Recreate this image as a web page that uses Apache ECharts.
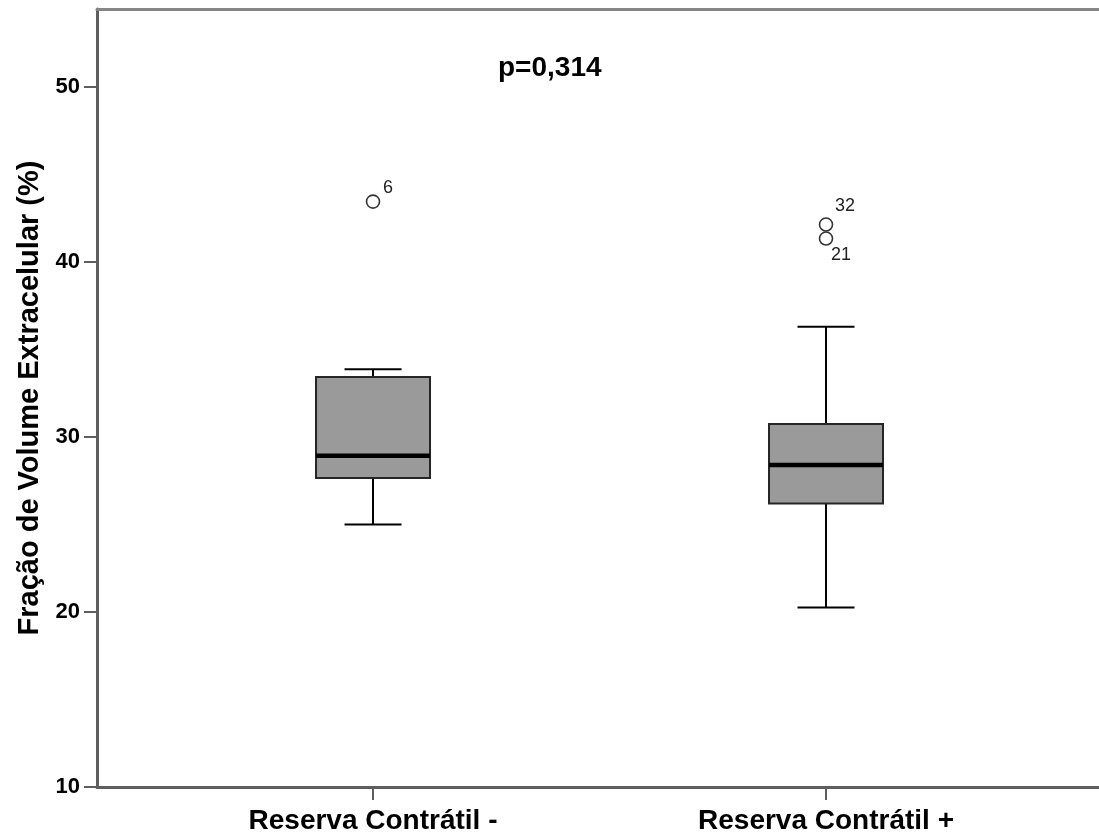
<!DOCTYPE html>
<html>
<head>
<meta charset="utf-8">
<script src="https://cdn.jsdelivr.net/npm/echarts@6/dist/echarts.min.js"></script>
<style>
  html, body { margin: 0; padding: 0; background: #fff; }
  #chart { width: 1099px; height: 834px; }
</style>
</head>
<body>
<div id="chart"></div>
<script>
// Group labels along the x axis
const categories = ['Reserva Contrátil -', 'Reserva Contrátil +'];

// Five-number summaries per group (%)
const whiskerLow  = [25.0, 20.25];
const quartile1   = [27.65, 26.2];
const median      = [28.93, 28.4];
const quartile3   = [33.43, 30.74];
const whiskerHigh = [33.87, 36.3];

// Outlying cases: group index, value and case number
const outlierGroup = [0, 1, 1];
const outlierValue = [43.45, 42.14, 41.34];
const outlierId    = ['6', '32', '21'];

// Y axis ticks
const yTicks = [10, 20, 30, 40, 50];

const pValueText = 'p=0,314';
const yTitle = 'Fração de Volume Extracelular (%)';

// Layout / style constants
const BOX_WIDTH = 114;
const CAP_WIDTH = 57;
const AXIS_COLOR = '#5e5e5e';
const labelOffsets = { '6': [15, -14], '32': [19, -19], '21': [15, 16] };

const boxData = categories.map((c, i) => [i, whiskerLow[i], quartile1[i], median[i], quartile3[i], whiskerHigh[i]]);
const outlierData = outlierValue.map((v, i) => ({
  value: [outlierGroup[i], v],
  name: outlierId[i],
  label: { offset: labelOffsets[outlierId[i]] }
}));

const chart = echarts.init(document.getElementById('chart'), null, { renderer: 'canvas' });

chart.setOption({
  backgroundColor: '#ffffff',
  animation: false,
  grid: { left: 97, width: 1052, top: 9, height: 778, containLabel: false, outerBoundsMode: 'none' },
  xAxis: [{
    type: 'value',
    min: -0.6093,
    max: 1.713,
    axisLine: { show: true, onZero: false, lineStyle: { color: AXIS_COLOR, width: 3 } },
    axisTick: { show: true, length: 13, customValues: [0, 1], lineStyle: { color: AXIS_COLOR, width: 2 } },
    axisLabel: {
      customValues: [0, 1],
      formatter: v => categories[Math.round(v)] || '',
      margin: 20,
      color: '#000',
      fontFamily: 'Liberation Sans, Arial, sans-serif',
      fontWeight: 'bold',
      fontSize: 28
    },
    splitLine: { show: false }
  }, {
    type: 'value',
    position: 'top',
    min: -0.6093,
    max: 1.713,
    axisLine: { show: true, onZero: false, lineStyle: { color: '#858585', width: 3 } },
    axisTick: { show: false },
    axisLabel: { show: false },
    splitLine: { show: false }
  }],
  yAxis: {
    type: 'value',
    min: 10,
    max: 54.457,
    name: yTitle,
    nameLocation: 'middle',
    nameRotate: 90,
    nameGap: 52,
    nameTextStyle: {
      color: '#000',
      fontFamily: 'Liberation Sans, Arial, sans-serif',
      fontWeight: 'bold',
      fontSize: 29
    },
    axisLine: { show: true, onZero: false, lineStyle: { color: AXIS_COLOR, width: 3 } },
    axisTick: { show: true, length: 13, customValues: yTicks, lineStyle: { color: AXIS_COLOR, width: 2 } },
    axisLabel: {
      customValues: yTicks,
      margin: 17,
      color: '#000',
      fontFamily: 'Liberation Sans, Arial, sans-serif',
      fontWeight: 'bold',
      fontSize: 22
    },
    splitLine: { show: false }
  },
  series: [{
    type: 'custom',
    xAxisIndex: 0,
    encode: { x: 0, y: [1, 2, 3, 4, 5] },
    data: boxData,
    renderItem: function (params, api) {
      const x = api.value(0);
      const pLow = api.coord([x, api.value(1)]);
      const pQ1 = api.coord([x, api.value(2)]);
      const pMed = api.coord([x, api.value(3)]);
      const pQ3 = api.coord([x, api.value(4)]);
      const pHigh = api.coord([x, api.value(5)]);
      const cx = pLow[0];
      const hw = BOX_WIDTH / 2;
      const cw = CAP_WIDTH / 2;
      const wStyle = { stroke: '#000', lineWidth: 2 };
      return {
        type: 'group',
        children: [
          { type: 'line', shape: { x1: cx, y1: pLow[1], x2: cx, y2: pQ1[1] }, style: wStyle },
          { type: 'line', shape: { x1: cx, y1: pQ3[1], x2: cx, y2: pHigh[1] }, style: wStyle },
          { type: 'line', shape: { x1: cx - cw, y1: pLow[1], x2: cx + cw, y2: pLow[1] }, style: wStyle },
          { type: 'line', shape: { x1: cx - cw, y1: pHigh[1], x2: cx + cw, y2: pHigh[1] }, style: wStyle },
          { type: 'rect', shape: { x: cx - hw, y: pQ3[1], width: BOX_WIDTH, height: pQ1[1] - pQ3[1] },
            style: { fill: '#9a9a9a', stroke: '#262626', lineWidth: 2 } },
          { type: 'line', shape: { x1: cx - hw, y1: pMed[1], x2: cx + hw, y2: pMed[1] },
            style: { stroke: '#000', lineWidth: 4.5 } }
        ]
      };
    }
  }, {
    type: 'scatter',
    xAxisIndex: 0,
    data: outlierData,
    symbol: 'circle',
    symbolSize: 13,
    itemStyle: { color: '#ffffff', borderColor: '#333', borderWidth: 1.6, opacity: 1 },
    label: {
      show: true,
      position: 'inside',
      formatter: p => p.name,
      color: '#222',
      fontFamily: 'Liberation Sans, Arial, sans-serif',
      fontSize: 18,
      align: 'center',
      verticalAlign: 'middle'
    },
    emphasis: { disabled: true }
  }],
  graphic: [{
    type: 'text',
    left: 498,
    top: 54,
    style: {
      text: pValueText,
      fill: '#000',
      font: 'bold 28px "Liberation Sans", Arial, sans-serif'
    }
  }]
});
</script>
</body>
</html>
